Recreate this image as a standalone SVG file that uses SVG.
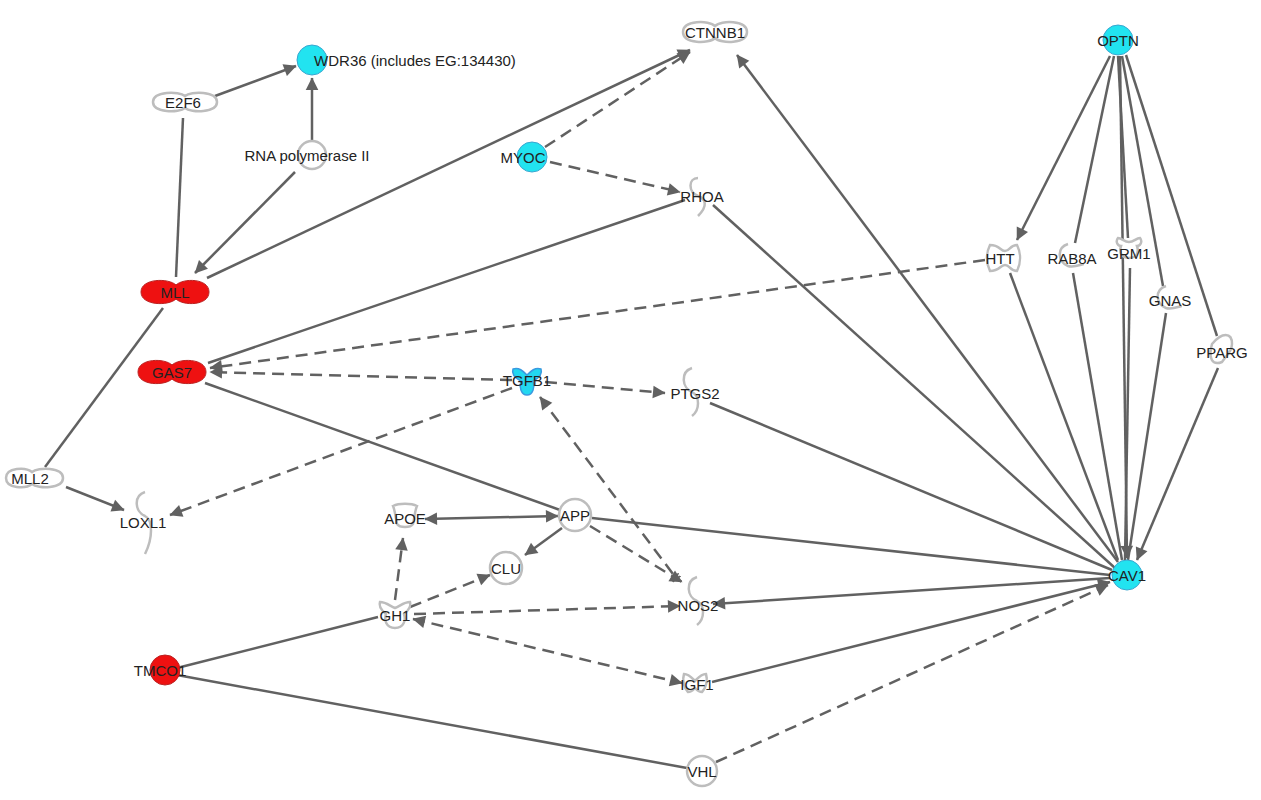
<svg xmlns="http://www.w3.org/2000/svg" width="1261" height="800" viewBox="0 0 1261 800">
<style>
text{font-family:"Liberation Sans",Arial,sans-serif;font-size:15px;fill:#222;text-anchor:middle;dominant-baseline:central}
.e{stroke:#616161;stroke-width:2.5;fill:none}
.d{stroke-dasharray:12 7}
.g{fill:#fff;stroke:#bdbdbd;stroke-width:2.5}
.c{fill:#22e3f0;stroke:#3aa6d0;stroke-width:1}
.r{fill:#ee1111;stroke:#b22;stroke-width:1}
</style>
<defs>
<marker id="a" viewBox="0 0 10 10" refX="10" refY="5" markerWidth="7" markerHeight="7" markerUnits="userSpaceOnUse" orient="auto-start-reverse" style="overflow:visible"><path d="M0,0L10,5L0,10z" fill="#616161" transform="scale(1.8) translate(-4,-2.2)"/></marker>
<marker id="t" viewBox="0 0 10 10" refX="5" refY="5" markerWidth="10" markerHeight="10" markerUnits="userSpaceOnUse" orient="auto"><path d="M3,0V10M6,0V10" stroke="#616161" stroke-width="1.5"/></marker>
</defs>
<rect width="1261" height="800" fill="#fff"/>
<g id="edges">
<line class="e" x1="215" y1="96" x2="296" y2="66" marker-end="url(#a)"/>
<line class="e" x1="312" y1="140" x2="312" y2="78" marker-end="url(#a)"/>
<line class="e" x1="183" y1="118" x2="176" y2="277"/>
<line class="e" x1="295" y1="172" x2="195" y2="273" marker-end="url(#a)"/>
<line class="e" x1="207" y1="278" x2="690" y2="50" marker-end="url(#a)"/>
<line class="e d" x1="545" y1="147" x2="690" y2="52" marker-end="url(#a)"/>
<line class="e d" x1="550" y1="162" x2="680" y2="192" marker-end="url(#a)"/>
<line class="e" x1="685" y1="200" x2="208" y2="363"/>
<line class="e d" x1="985" y1="260" x2="210" y2="368" marker-end="url(#a)"/>
<line class="e d" x1="512" y1="380" x2="210" y2="372" marker-end="url(#a)"/>
<line class="e d" x1="545" y1="382" x2="665" y2="393" marker-end="url(#a)"/>
<line class="e d" x1="512" y1="388" x2="170" y2="515" marker-end="url(#a)"/>
<line class="e" x1="713" y1="205" x2="1115" y2="568"/>
<line class="e" x1="1118" y1="562" x2="737" y2="55" marker-end="url(#a)"/>
<line class="e" x1="1110" y1="56" x2="1017" y2="240" marker-end="url(#a)"/>
<line class="e" x1="1114" y1="56" x2="1075" y2="243"/>
<line class="e" x1="1118" y1="56" x2="1128" y2="238"/>
<line class="e" x1="1122" y1="56" x2="1163" y2="286"/>
<line class="e" x1="1126" y1="55" x2="1217" y2="336"/>
<line class="e" x1="1120" y1="56" x2="1127" y2="558" marker-end="url(#a)"/>
<line class="e" x1="1218" y1="368" x2="1137" y2="560" marker-end="url(#a)"/>
<line class="e" x1="1010" y1="273" x2="1118" y2="560"/>
<line class="e" x1="1073" y1="273" x2="1122" y2="560"/>
<line class="e" x1="1130" y1="268" x2="1125" y2="560"/>
<line class="e" x1="1166" y1="313" x2="1128" y2="560"/>
<line class="e" x1="710" y1="403" x2="1112" y2="570"/>
<line class="e" x1="163" y1="308" x2="45" y2="467"/>
<line class="e" x1="66" y1="487" x2="124" y2="510" marker-end="url(#a)"/>
<line class="e" x1="205" y1="383" x2="560" y2="510"/>
<line class="e" x1="558" y1="516" x2="425" y2="519" marker-start="url(#a)" marker-end="url(#a)"/>
<line class="e" x1="562" y1="528" x2="525" y2="555" marker-end="url(#a)"/>
<line class="e d" x1="590" y1="526" x2="682" y2="582" marker-end="url(#a)"/>
<line class="e" x1="592" y1="518" x2="1110" y2="575"/>
<line class="e d" x1="540" y1="397" x2="676" y2="578" marker-start="url(#a)" marker-end="url(#t)"/>
<line class="e d" x1="395" y1="600" x2="403" y2="538" marker-end="url(#a)"/>
<line class="e d" x1="410" y1="607" x2="490" y2="575" marker-end="url(#a)"/>
<line class="e d" x1="414" y1="614" x2="680" y2="606" marker-end="url(#a)"/>
<line class="e d" x1="413" y1="619" x2="682" y2="683" marker-start="url(#a)" marker-end="url(#a)"/>
<line class="e" x1="1110" y1="578" x2="713" y2="604" marker-end="url(#a)"/>
<line class="e" x1="712" y1="682" x2="1110" y2="582" marker-end="url(#a)"/>
<line class="e" x1="177" y1="668" x2="378" y2="617"/>
<line class="e" x1="177" y1="675" x2="687" y2="768"/>
<line class="e d" x1="716" y1="762" x2="1108" y2="585" marker-end="url(#a)"/>
</g>
<g id="n-wdr36"><circle class="c" cx="312" cy="60" r="15"/><text x="415" y="60">WDR36 (includes EG:134430)</text></g>
<g id="n-e2f6"><path class="g" d="M185,96C191,91 217,91 217,102C217,113 191,113 185,108C179,113 153,113 153,102C153,91 179,91 185,96Z"/><text x="183" y="102">E2F6</text></g>
<g id="n-rnapol"><circle class="g" cx="312" cy="155" r="14"/><text x="307" y="155">RNA polymerase II</text></g>
<g id="n-myoc"><circle class="c" cx="532" cy="157" r="15"/><text x="523" y="157">MYOC</text></g>
<g id="n-ctnnb1"><path class="g" d="M715,26C721,20 747,20 747,32C747,44 721,44 715,38C709,44 683,44 683,32C683,20 709,20 715,26Z"/><text x="715" y="32">CTNNB1</text></g>
<g id="n-rhoa"><path class="g" d="M698,178c-10,0-10,14,0,18c8,3,10,10,0,20" /><text x="702" y="196">RHOA</text></g>
<g id="n-optn"><circle class="c" cx="1118" cy="40" r="15"/><text x="1118" y="40">OPTN</text></g>
<g id="n-htt"><path class="g" d="M990,245c10,0,10,6,15,6c5,0,5-6,12-6c4,8,4,18,0,26c-7,0-7-6-12-6c-5,0-5,6-15,6c-4-8-4-18,0-26z"/><text x="1000" y="258">HTT</text></g>
<g id="n-rab8a"><path class="g" d="M1068,244c-12,4-10,18,0,22c6,2,14-2,16,-2" /><text x="1072" y="258">RAB8A</text></g>
<g id="n-grm1"><path class="g" d="M1118,238c4,0,6,4,11,4c5,0,7-4,11-4c3,4,0,8-3,8c2,6,0,12-8,12c-8,0-10-6-8-12c-3,0-6-4-3-8z"/><text x="1129" y="253">GRM1</text></g>
<g id="n-gnas"><path class="g" d="M1166,286c-12,4-10,18,0,22c6,2,14-2,16,-2"/><text x="1170" y="300">GNAS</text></g>
<g id="n-pparg"><path class="g" d="M1212,344c10-12,20-12,20,0c0,6-4,10-10,18c-10,4-14-4-10-18z"/><text x="1222" y="352">PPARG</text></g>
<g id="n-mll"><path class="r" d="M176,285C183,278 209,278 209,292C209,306 183,306 176,299C169,306 141,306 141,292C141,278 169,278 176,285Z"/><text x="175" y="292">MLL</text></g>
<g id="n-gas7"><path class="r" d="M172,365C179,358 206,358 206,372C206,386 179,386 172,379C165,386 138,386 138,372C138,358 165,358 172,365Z"/><text x="172" y="372">GAS7</text></g>
<g id="n-tgfb1"><path d="M513,369c6-2,10,2,14,6c4-4,8-8,14-6c2,6-4,10-8,12c2,6,0,14-6,14c-6,0-8-8-6-14c-4-2-10-6-8-12z" fill="#22d8f0" stroke="#3a9ae0" stroke-width="1.5"/><text x="527" y="380">TGFB1</text></g>
<g id="n-ptgs2"><path class="g" d="M692,368c-12,4-10,20,0,24c8,4,8,18,0,24"/><text x="695" y="393">PTGS2</text></g>
<g id="n-mll2"><path class="g" d="M32,472C38,467 63,467 63,478C63,489 38,489 32,484C26,489 6,489 6,478C6,467 26,467 32,472Z"/><text x="30" y="478">MLL2</text></g>
<g id="n-loxl1"><path class="g" d="M145,492c-12,4-10,20,0,24c8,4,8,22,0,38"/><text x="143" y="522">LOXL1</text></g>
<g id="n-apoe"><path class="g" d="M393,506c6-3,18-3,24,0c-2,4-3,14-4,18c-3,4-13,4-16,0c-1-4-2-14-4-18z"/><text x="405" y="518">APOE</text></g>
<g id="n-app"><circle class="g" cx="575" cy="515" r="16"/><text x="575" y="515">APP</text></g>
<g id="n-clu"><circle class="g" cx="506" cy="568" r="16"/><text x="506" y="568">CLU</text></g>
<g id="n-gh1"><path class="g" d="M380,602c6,0,10,4,15,6c5-2,9-6,15-6c2,6-4,10-6,12c2,6,0,14-9,14c-9,0-11-8-9-14c-2-2-8-6-6-12z"/><text x="395" y="615">GH1</text></g>
<g id="n-nos2"><path class="g" d="M697,577c-12,4-10,20,0,24c8,4,8,18,0,24"/><text x="698" y="605">NOS2</text></g>
<g id="n-cav1"><circle class="c" cx="1127" cy="575" r="15"/><text x="1127" y="575">CAV1</text></g>
<g id="n-tmco1"><circle class="r" cx="165" cy="670" r="15"/><text x="160" y="670">TMCO1</text></g>
<g id="n-igf1"><path class="g" d="M684,674c5,0,8,4,11,7c3-3,6-7,11-7c2,6,0,14-4,18c-4,0-5-2-7-4c-2,2-3,4-7,4c-4-4-6-12-4-18z"/><text x="697" y="684">IGF1</text></g>
<g id="n-vhl"><circle class="g" cx="702" cy="771" r="15" stroke="#888"/><text x="702" y="771">VHL</text></g>
</svg>
